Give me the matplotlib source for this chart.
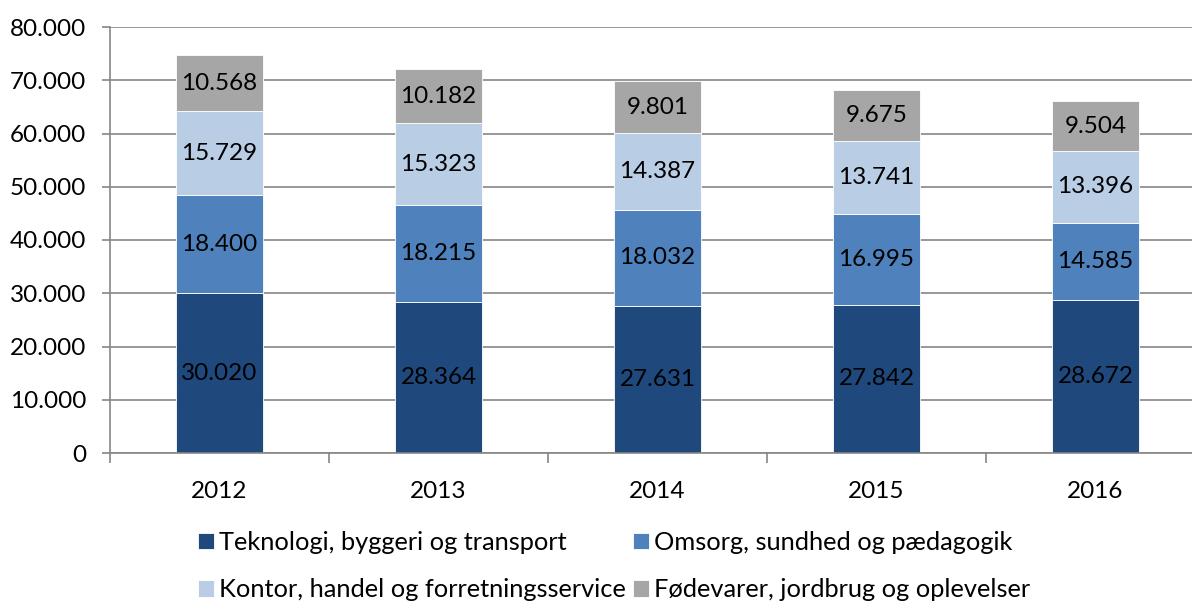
import matplotlib.pyplot as plt
import numpy as np

years = ["2012", "2013", "2014", "2015", "2016"]
teknologi = [30020, 28364, 27631, 27842, 28672]
omsorg = [18400, 18215, 18032, 16995, 14585]
kontor = [15729, 15323, 14387, 13741, 13396]
fodevarer = [10568, 10182, 9801, 9675, 9504]

names = ["Teknologi, byggeri og transport", "Omsorg, sundhed og pædagogik",
         "Kontor, handel og forretningsservice", "Fødevarer, jordbrug og oplevelser"]
colors = ["#1F497D", "#4F81BD", "#B9CDE5", "#A6A6A6"]

plt.rcParams['font.family'] = ['Lato', 'DejaVu Sans']

fig = plt.figure(figsize=(11.92, 6.03), dpi=100)
ax = fig.add_axes([110 / 1192, 1 - 453 / 603, 1095 / 1192, 426 / 603])

def fmt(v):
    return f"{v:,}".replace(",", ".")

x = np.arange(len(years))
bottom = np.zeros(len(years))
handles = []
for vals, c, n in zip([teknologi, omsorg, kontor, fodevarer], colors, names):
    bars = ax.bar(x, vals, 0.4, bottom=bottom, color=c, edgecolor="white", linewidth=0.6, zorder=2, label=n)
    handles.append(bars)
    for xi, b, v in zip(x, bottom, vals):
        ax.text(xi, b + v / 2, fmt(v), ha="center", va="center", fontsize=17.5, color="black", zorder=3)
    bottom += np.array(vals)

ax.set_xlim(-0.5, 4.5)
ax.set_ylim(0, 80000)
ax.set_yticks(range(0, 80001, 10000))
ax.set_yticklabels([fmt(v) for v in range(0, 80001, 10000)], fontsize=17.5)
ax.set_xticks(x)
ax.set_xticklabels(years, fontsize=17.5)
ax.set_xticks(np.arange(-0.5, 5, 1), minor=True)
ax.tick_params(axis="x", which="major", length=0, pad=20)
ax.tick_params(axis="x", which="minor", length=7, color="#868686", width=1.2)
ax.tick_params(axis="y", length=6, color="#868686", width=1.2, pad=11)
ax.grid(axis="y", color="#868686", linewidth=1.2, zorder=0)
for s in ["top", "right"]:
    ax.spines[s].set_visible(False)
for s in ["left", "bottom"]:
    ax.spines[s].set_color("#868686")
    ax.spines[s].set_linewidth(1.2)

# legend is filled row by row in the reference
order = [0, 2, 1, 3]
fig.legend(handles=[handles[i] for i in order], labels=[names[i] for i in order],
           loc="lower left", bbox_to_anchor=(175 / 1192, -0.035),
           ncol=2, frameon=False, fontsize=18.3, handlelength=0.62, handleheight=0.62,
           handletextpad=0.2, columnspacing=0.3, labelspacing=0.95)

fig.savefig("out.png", dpi=100)
